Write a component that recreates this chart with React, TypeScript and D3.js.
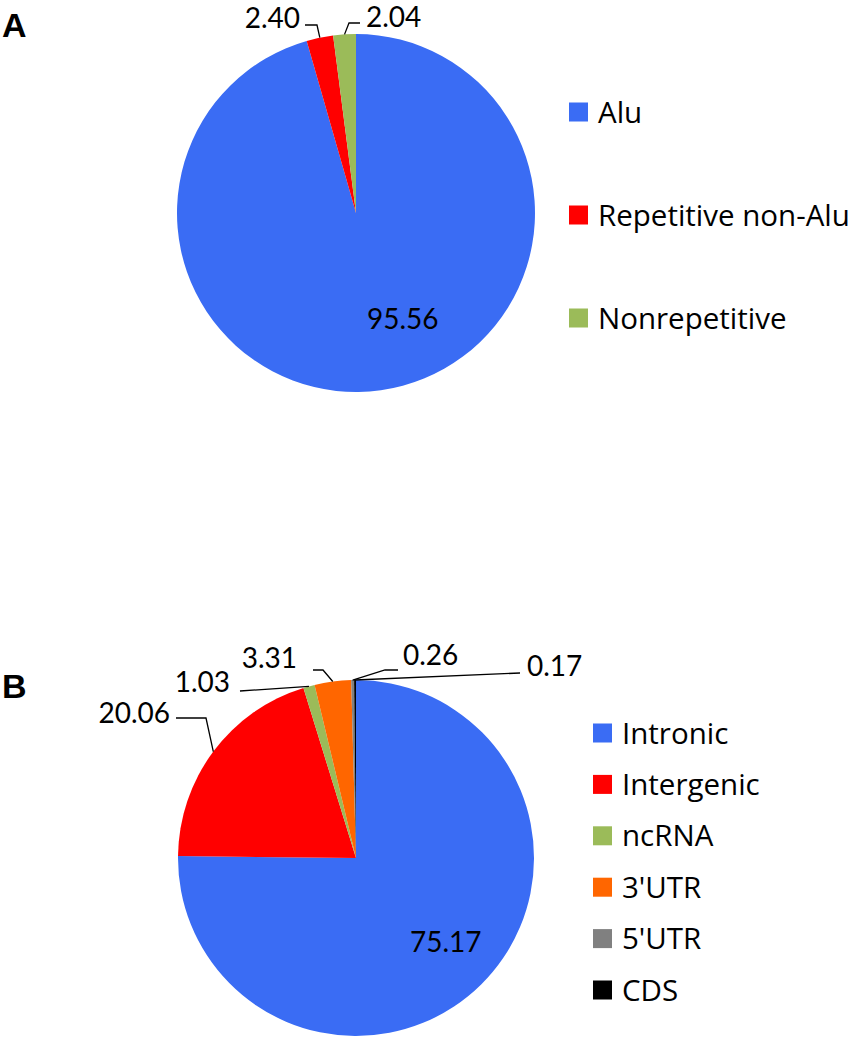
import React from "react";
import * as d3 from "d3";

// ---------- data ----------
const categoriesA = ["Alu", "Repetitive non-Alu", "Nonrepetitive"];
const valuesA = [95.56, 2.4, 2.04];
const labelsA = ["95.56", "2.40", "2.04"];

const categoriesB = ["Intronic", "Intergenic", "ncRNA", "3'UTR", "5'UTR", "CDS"];
const valuesB = [75.17, 20.06, 1.03, 3.31, 0.26, 0.17];
const labelsB = ["75.17", "20.06", "1.03", "3.31", "0.26", "0.17"];

// ---------- styles / layout ----------
const colorsA = ["#3a6cf4", "#ff0000", "#9bbb59"];
const colorsB = ["#3a6cf4", "#ff0000", "#9bbb59", "#ff6600", "#808080", "#000000"];

const LABEL_FONT = "Lato, 'Open Sans', sans-serif";
const LEGEND_FONT = "'Open Sans', Lato, sans-serif";

type LabelLayout = {
  tx: number; ty: number; anchor: "start" | "end";
  leader?: [number, number][]; // points relative to pie center, from label side toward slice
};

// positions relative to the pie centre
const layoutA: LabelLayout[] = [
  { tx: 11, ty: 116, anchor: "start" },
  { tx: -56, ty: -185, anchor: "end", leader: [[-51, -188], [-39, -188]] },
  { tx: 10, ty: -186, anchor: "start", leader: [[4, -190], [-7, -190]] },
];
const layoutB: LabelLayout[] = [
  { tx: 54, ty: 94, anchor: "start" },
  { tx: -186, ty: -135, anchor: "end", leader: [[-180, -140], [-150, -140]] },
  { tx: -126, ty: -166, anchor: "end", leader: [[-116, -167]] },
  { tx: -59, ty: -190, anchor: "end", leader: [[-43, -188], [-33, -188]] },
  { tx: 47, ty: -193, anchor: "start", leader: [[42, -188], [29, -188]] },
  { tx: 171, ty: -182, anchor: "start", leader: [[164, -185]] },
];

function PieBlock(props: {
  cx: number; cy: number; r: number;
  values: number[]; labels: string[]; colors: string[];
  layout: LabelLayout[];
}) {
  const { cx, cy, r, values, labels, colors, layout } = props;
  const arcs = d3.pie<number>().sort(null).value((d) => d)(values);
  const arcGen = d3.arc<d3.PieArcDatum<number>>().innerRadius(0).outerRadius(r);
  const line = d3.line();
  return (
    <g transform={`translate(${cx},${cy})`}>
      {arcs.map((a, i) => (
        <path key={i} d={arcGen(a) || ""} fill={colors[i]} />
      ))}
      {arcs.map((a, i) => {
        const L = layout[i];
        if (!L.leader) return null;
        const mid = (a.startAngle + a.endAngle) / 2;
        const pt: [number, number] = [r * Math.sin(mid), -r * Math.cos(mid)];
        const pts = [...L.leader, pt];
        return (
          <path key={"l" + i} d={line(pts) || ""} fill="none" stroke="#000" strokeWidth={1.3} />
        );
      })}
      {arcs.map((a, i) => (
        <text key={"t" + i} x={layout[i].tx} y={layout[i].ty} textAnchor={layout[i].anchor}
          fontFamily={LABEL_FONT} fontSize={28} fill="#000">
          {labels[i]}
        </text>
      ))}
    </g>
  );
}

function Legend(props: { x: number; y0: number; step: number; cats: string[]; colors: string[]; fontSize: number }) {
  const { x, y0, step, cats, colors, fontSize } = props;
  return (
    <g>
      {cats.map((c, i) => (
        <g key={c} transform={`translate(${x},${y0 + i * step})`}>
          <rect x={0} y={-9.5} width={19} height={19} fill={colors[i]} />
          <text x={29} y={0} dy="0.36em" fontFamily={LEGEND_FONT} fontSize={fontSize} fill="#000">{c}</text>
        </g>
      ))}
    </g>
  );
}

export default function App() {
  return (
    <svg width={861} height={1050} style={{ position: "absolute", left: 0, top: 0, background: "#fff" }}>
      <rect width={861} height={1050} fill="#fff" />
      <text x={2} y={37} fontFamily="'Liberation Sans', Arial, sans-serif" fontWeight="bold" fontSize={34}>A</text>
      <text x={2} y={698} fontFamily="'Liberation Sans', Arial, sans-serif" fontWeight="bold" fontSize={34}>B</text>
      <PieBlock cx={356} cy={213} r={179} values={valuesA} labels={labelsA} colors={colorsA} layout={layoutA} />
      <PieBlock cx={356} cy={858} r={178} values={valuesB} labels={labelsB} colors={colorsB} layout={layoutB} />
      <Legend x={569} y0={112} step={103} cats={categoriesA} colors={colorsA} fontSize={29.5} />
      <Legend x={593} y0={733} step={51.4} cats={categoriesB} colors={colorsB} fontSize={29.5} />
    </svg>
  );
}
